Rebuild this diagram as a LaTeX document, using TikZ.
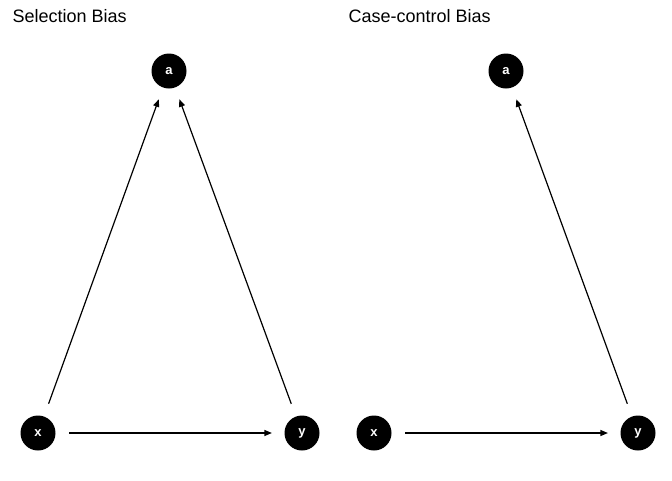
\documentclass[tikz,border=0pt]{standalone}
\usepackage{fontspec}
\setmainfont{Liberation Sans}
\usetikzlibrary{arrows.meta}
\begin{document}
\begin{tikzpicture}[x=1pt, y=-1pt, line width=1.2pt,
		main node/.style={circle,fill=black,inner sep=0pt,minimum size=35pt,text=white,font=\fontsize{13}{15}\selectfont\bfseries},
		title/.style={anchor=base west,inner sep=0pt,font=\fontsize{18}{20}\selectfont},
		every edge/.style={draw,-{Triangle[length=7.5pt,width=6pt]},shorten >=12pt,shorten <=13pt}]
		\useasboundingbox (0,0) rectangle (672,480);
		
		% left panel
		\node[title] (t1) at (12,22) {Selection Bias};
		\node[main node] (a1) at (169,71) {a};
		\node[main node] (x1) at (38,433) {x};
		\node[main node] (y1) at (302,433) {y};
		
		% right panel
		\node[title] (t2) at (348,22) {Case-control Bias};
		\node[main node] (a2) at (506,71) {a};
		\node[main node] (x2) at (374,433) {x};
		\node[main node] (y2) at (638,433) {y};
		
		\path
		(x1) edge (a1)
		edge (y1)
		(y1) edge (a1)
		(x2) edge (y2)
		(y2) edge (a2);
		\end{tikzpicture}
\end{document}
